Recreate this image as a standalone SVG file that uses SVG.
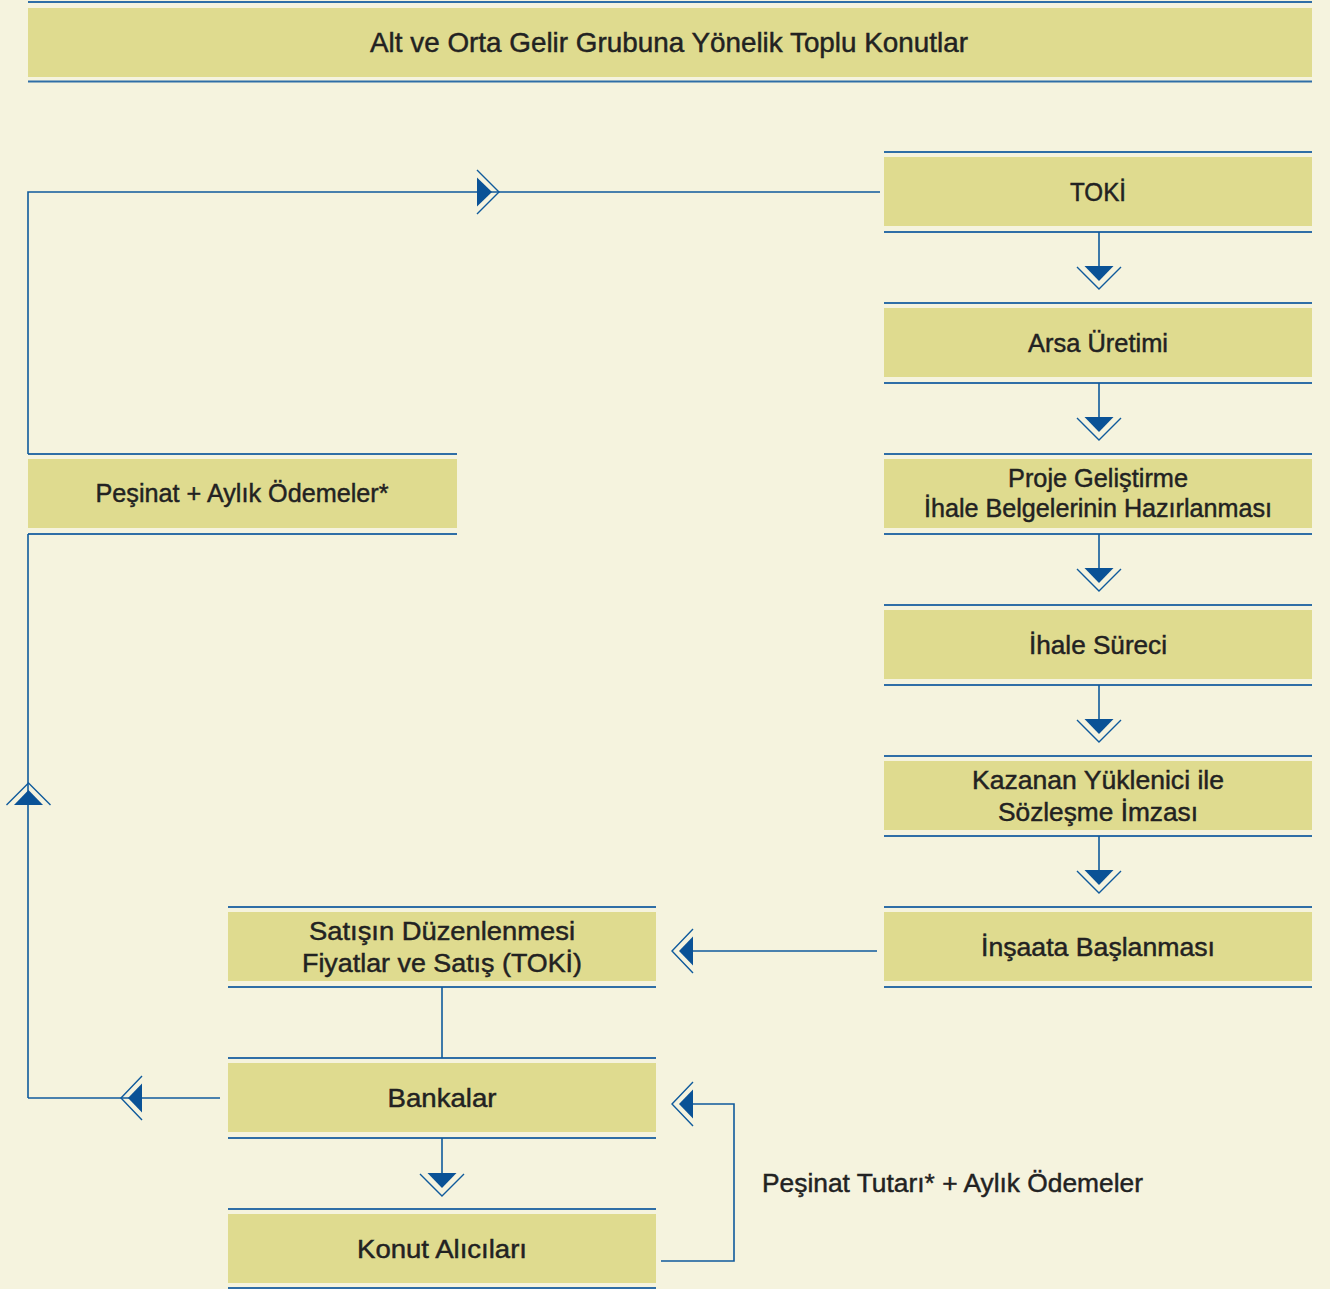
<svg xmlns="http://www.w3.org/2000/svg" width="1330" height="1289" viewBox="0 0 1330 1289">
<style>
.bg{fill:#F5F3DE}
.fill{fill:#DFDB8F}
.rule{stroke:#2F6EA6;stroke-width:2;fill:none}
.t{font-family:"Liberation Sans",Arial,sans-serif;font-size:25.3px;fill:#222;stroke:#222;stroke-width:0.45px;text-anchor:middle}
.c{stroke:#0F5A9C;stroke-width:1.6;fill:none}
.ah{fill:#0A5296}
.ch{stroke:#0F5A9C;stroke-width:1.4;fill:none}
</style>
<defs>
<g id="down">
<polygon class="ah" points="-14.5,-23 14.5,-23 0,-8"/>
<polyline class="ch" points="-22,-22 0,0 22,-22"/>
</g>
<g id="up">
<polygon class="ah" points="-14.5,22 14.5,22 0,7"/>
<polyline class="ch" points="-22,22 0,0 22,22"/>
</g>
<g id="left">
<polygon class="ah" points="21,-14.5 21,14.5 7,0"/>
<polyline class="ch" points="21,-22 0,0 21,22"/>
</g>
<g id="right">
<polygon class="ah" points="-22,-14.5 -22,14.5 -7,0"/>
<polyline class="ch" points="-22,-22 0,0 -22,22"/>
</g>
</defs>
<rect class="bg" x="0" y="0" width="1330" height="1289"/>

<g id="header">
<line class="rule" x1="28" y1="2" x2="1312" y2="2"/>
<rect class="fill" x="28" y="8" width="1284" height="69"/>
<line class="rule" x1="28" y1="81.5" x2="1312" y2="81.5"/>
<text class="t" x="669" y="52" style="font-size:27.6px" textLength="598" lengthAdjust="spacingAndGlyphs">Alt ve Orta Gelir Grubuna Yönelik Toplu Konutlar</text>
</g>

<g id="n-toki">
<line class="rule" x1="884" y1="152" x2="1312" y2="152"/>
<rect class="fill" x="884" y="157" width="428" height="69"/>
<line class="rule" x1="884" y1="232" x2="1312" y2="232"/>
<text class="t" x="1098" y="201" textLength="56" lengthAdjust="spacingAndGlyphs">TOKİ</text>
</g>
<g id="n-arsa">
<line class="rule" x1="884" y1="303" x2="1312" y2="303"/>
<rect class="fill" x="884" y="308" width="428" height="69"/>
<line class="rule" x1="884" y1="383" x2="1312" y2="383"/>
<text class="t" x="1098" y="352" textLength="140" lengthAdjust="spacingAndGlyphs">Arsa Üretimi</text>
</g>
<g id="n-proje">
<line class="rule" x1="884" y1="454" x2="1312" y2="454"/>
<rect class="fill" x="884" y="459" width="428" height="69"/>
<line class="rule" x1="884" y1="534" x2="1312" y2="534"/>
<text class="t" x="1098" y="487" textLength="180" lengthAdjust="spacingAndGlyphs">Proje Geliştirme</text>
<text class="t" x="1098" y="517" textLength="348" lengthAdjust="spacingAndGlyphs">İhale Belgelerinin Hazırlanması</text>
</g>
<g id="n-ihale">
<line class="rule" x1="884" y1="605" x2="1312" y2="605"/>
<rect class="fill" x="884" y="610" width="428" height="69"/>
<line class="rule" x1="884" y1="685" x2="1312" y2="685"/>
<text class="t" x="1098" y="654" textLength="138" lengthAdjust="spacingAndGlyphs">İhale Süreci</text>
</g>
<g id="n-kazanan">
<line class="rule" x1="884" y1="756" x2="1312" y2="756"/>
<rect class="fill" x="884" y="761" width="428" height="69"/>
<line class="rule" x1="884" y1="836" x2="1312" y2="836"/>
<text class="t" x="1098" y="789" textLength="252" lengthAdjust="spacingAndGlyphs">Kazanan Yüklenici ile</text>
<text class="t" x="1098" y="821" textLength="200" lengthAdjust="spacingAndGlyphs">Sözleşme İmzası</text>
</g>
<g id="n-insaat">
<line class="rule" x1="884" y1="907" x2="1312" y2="907"/>
<rect class="fill" x="884" y="912" width="428" height="69"/>
<line class="rule" x1="884" y1="987" x2="1312" y2="987"/>
<text class="t" x="1098" y="956" textLength="234" lengthAdjust="spacingAndGlyphs">İnşaata Başlanması</text>
</g>

<g id="n-pesinat">
<line class="rule" x1="28" y1="454" x2="457" y2="454"/>
<rect class="fill" x="28" y="459" width="429" height="69"/>
<line class="rule" x1="28" y1="534" x2="457" y2="534"/>
<text class="t" x="242" y="502" textLength="293" lengthAdjust="spacingAndGlyphs">Peşinat + Aylık Ödemeler*</text>
</g>
<g id="n-satis">
<line class="rule" x1="228" y1="907" x2="656" y2="907"/>
<rect class="fill" x="228" y="912" width="428" height="69"/>
<line class="rule" x1="228" y1="987" x2="656" y2="987"/>
<text class="t" x="442" y="940" textLength="266" lengthAdjust="spacingAndGlyphs">Satışın Düzenlenmesi</text>
<text class="t" x="442" y="972" textLength="280" lengthAdjust="spacingAndGlyphs">Fiyatlar ve Satış (TOKİ)</text>
</g>
<g id="n-bankalar">
<line class="rule" x1="228" y1="1058" x2="656" y2="1058"/>
<rect class="fill" x="228" y="1063" width="428" height="69"/>
<line class="rule" x1="228" y1="1138" x2="656" y2="1138"/>
<text class="t" x="442" y="1107" textLength="109" lengthAdjust="spacingAndGlyphs">Bankalar</text>
</g>
<g id="n-konut">
<line class="rule" x1="228" y1="1209" x2="656" y2="1209"/>
<rect class="fill" x="228" y="1214" width="428" height="69"/>
<line class="rule" x1="228" y1="1288" x2="656" y2="1288"/>
<text class="t" x="442" y="1258" textLength="170" lengthAdjust="spacingAndGlyphs">Konut Alıcıları</text>
</g>

<g id="connectors">
<polyline class="c" points="880,192 28,192 28,454"/>
<use href="#right" x="499" y="192"/>
<line class="c" x1="28" y1="534" x2="28" y2="1098"/>
<use href="#up" x="28.5" y="783"/>
<line class="c" x1="28" y1="1098" x2="220" y2="1098"/>
<use href="#left" x="121" y="1098"/>
<line class="c" x1="1099" y1="232" x2="1099" y2="270"/>
<use href="#down" x="1099" y="289"/>
<line class="c" x1="1099" y1="383" x2="1099" y2="421"/>
<use href="#down" x="1099" y="440"/>
<line class="c" x1="1099" y1="534" x2="1099" y2="572"/>
<use href="#down" x="1099" y="591"/>
<line class="c" x1="1099" y1="685" x2="1099" y2="723"/>
<use href="#down" x="1099" y="742"/>
<line class="c" x1="1099" y1="836" x2="1099" y2="874"/>
<use href="#down" x="1099" y="893"/>
<line class="c" x1="877" y1="951" x2="690" y2="951"/>
<use href="#left" x="672" y="951"/>
<line class="c" x1="442" y1="987" x2="442" y2="1058"/>
<line class="c" x1="442" y1="1138" x2="442" y2="1177"/>
<use href="#down" x="442" y="1196"/>
<polyline class="c" points="661,1261 734,1261 734,1104 690,1104"/>
<use href="#left" x="672" y="1104"/>
</g>

<text class="t" x="952.5" y="1192" style="font-size:26.4px" textLength="381" lengthAdjust="spacingAndGlyphs">Peşinat Tutarı* + Aylık Ödemeler</text>
</svg>
